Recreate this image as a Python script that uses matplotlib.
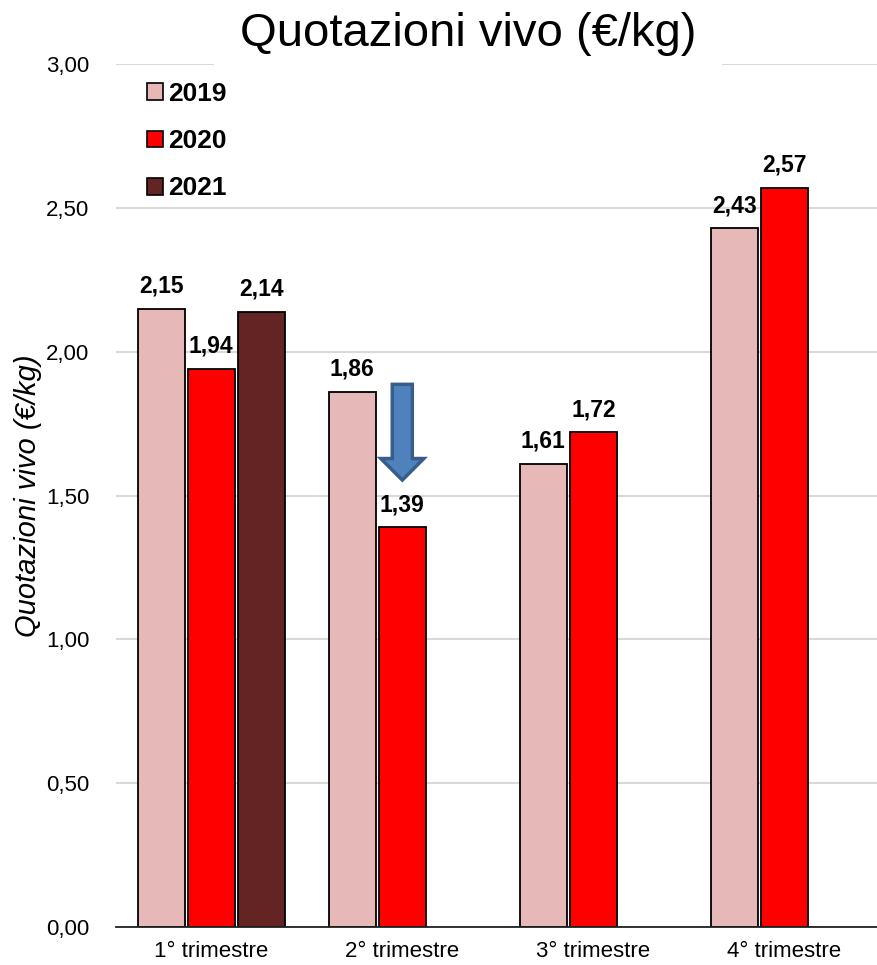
import numpy as np
import matplotlib.pyplot as plt
from matplotlib.patches import FancyArrow, Patch

plt.rcParams['font.family'] = ['Liberation Sans', 'DejaVu Sans']

# dati
trimestri = ["1° trimestre", "2° trimestre", "3° trimestre", "4° trimestre"]
anni = ["2019", "2020", "2021"]
v2019 = [2.15, 1.86, 1.61, 2.43]
v2020 = [1.94, 1.39, 1.72, 2.57]
v2021 = [2.14, np.nan, np.nan, np.nan]
colori = ["#E6B8B7", "#FF0000", "#632423"]

fig = plt.figure(figsize=(8.77, 9.65), dpi=100)
ax = fig.add_axes([0.132, 0.0394, 0.868, 0.894])

x = np.arange(len(trimestri))
w = 0.246
step = 0.262
for i, (vals, col) in enumerate(zip([v2019, v2020, v2021], colori)):
    pos = x + (i - 1) * step
    ax.bar(pos, vals, width=w, color=col, edgecolor="black", linewidth=1.3, zorder=3)
    for xb, v in zip(pos, vals):
        if np.isnan(v):
            continue
        ax.annotate(f"{v:.2f}".replace(".", ","), (xb, v), xytext=(0, 8),
                    textcoords="offset points", ha="center", va="bottom",
                    fontsize=16.5, fontweight="bold", zorder=5)

ax.set_xlim(-0.5, 3.485)
ax.set_ylim(0, 3.0)
ticks = np.arange(0, 3.01, 0.5)
ax.set_yticks(ticks)
ax.set_yticklabels([f"{t:.2f}".replace(".", ",") for t in ticks], fontsize=16)
ax.set_xticks(x)
ax.set_xticklabels(trimestri, fontsize=16)
ax.tick_params(axis="x", length=0, pad=10)
ax.tick_params(axis="y", length=0, pad=19)
ax.yaxis.grid(True, color="#D9D9D9", linewidth=1.5, zorder=0)
ax.set_axisbelow(True)
for s in ["top", "right", "left"]:
    ax.spines[s].set_visible(False)
ax.spines["bottom"].set_color("#222222")
ax.spines["bottom"].set_linewidth(1.3)
ax.spines["bottom"].set_zorder(4)

ax.set_ylabel("Quotazioni vivo (€/kg)", fontsize=21, style="italic", labelpad=3)

# freccia calo 2° trimestre
freccia = FancyArrow(1.0, 1.887, 0, -0.333, width=0.105, head_width=0.225,
                     head_length=0.075, length_includes_head=True,
                     facecolor="#4F81BD", edgecolor="#385D8A", linewidth=2.5, zorder=4)
ax.add_patch(freccia)

# titolo con sfondo bianco sopra la griglia
fig.text(0.534, 0.952, "Quotazioni vivo (€/kg)", ha="center", va="baseline", fontsize=34,
         bbox=dict(boxstyle="square,pad=0.55", facecolor="white", edgecolor="none"), zorder=10)

handles = [Patch(facecolor=c, edgecolor="black", linewidth=1.2) for c in colori]
ax.legend(handles, anni, loc="upper left", bbox_to_anchor=(147 / 877, 1 - 82 / 965),
          bbox_transform=fig.transFigure, frameon=False, borderaxespad=0, borderpad=0,
          prop={"weight": "bold", "size": 19}, handlelength=0.6, handleheight=0.6,
          handletextpad=0.2, labelspacing=0.88)

fig.savefig("out.png", dpi=100)
